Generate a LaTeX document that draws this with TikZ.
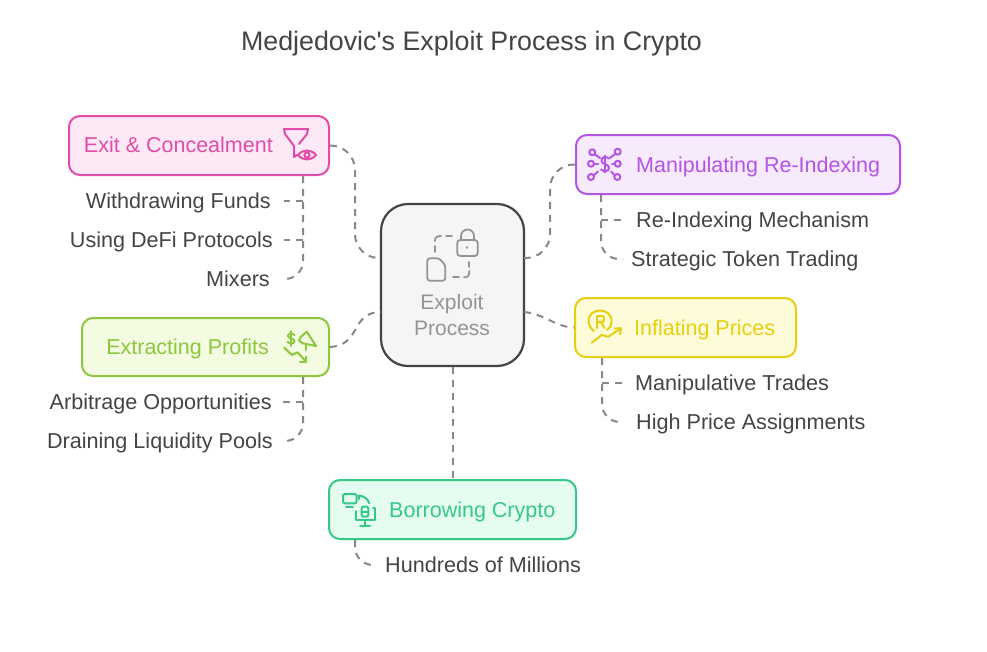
\documentclass[tikz,border=0pt]{standalone}
\usepackage{fontspec}
\setmainfont{Liberation Sans}
\usepackage{xcolor}
\usepackage{tikz}
\usetikzlibrary{arrows.meta,positioning,calc}
\definecolor{ExitPink}{RGB}{224,76,168}
\definecolor{ExitFill}{RGB}{253,232,246}
\definecolor{ManipPurple}{RGB}{180,84,226}
\definecolor{ManipFill}{RGB}{247,234,253}
\definecolor{InflateYellow}{RGB}{230,207,16}
\definecolor{InflateFill}{RGB}{253,251,216}
\definecolor{ExtractGreen}{RGB}{141,198,63}
\definecolor{ExtractFill}{RGB}{243,251,224}
\definecolor{BorrowGreen}{RGB}{53,201,133}
\definecolor{BorrowFill}{RGB}{229,252,241}
\definecolor{TextGrey}{RGB}{68,68,68}
\definecolor{LinkGrey}{RGB}{136,136,136}

\begin{document}
\begin{tikzpicture}[
  x=1pt,y=-1pt,
  stagebox/.style={
    draw,
    rectangle,
    rounded corners=11pt,
    line width=2pt,
    inner sep=0pt
  },
  stagetext/.style={font=\fontsize{21.5}{24}\selectfont,inner sep=0pt},
  leaf/.style={font=\fontsize{21.6}{24}\selectfont,text=TextGrey,inner sep=0pt},
  link/.style={draw=LinkGrey,line width=2pt,dash pattern=on 7pt off 6pt},
  trunk/.style={link,rounded corners=18pt},
  icon/.style={line width=2pt,line cap=round,line join=round},
  font=\fontsize{21}{24}\selectfont
]
\useasboundingbox (0,0) rectangle (987,651);
\fill[white] (0,0) rectangle (987,651);

% Title
\node[font=\fontsize{26.8}{30}\selectfont,text=TextGrey,inner sep=0pt] (title) at (471.5,44) {Medjedovic\textquotesingle s Exploit Process in Crypto};

% Centre
\node[draw=TextGrey,fill=black!4,rounded corners=27pt,line width=2.2pt,minimum width=143pt,minimum height=162pt] (centre) at (452.5,285) {};
\node[text=black!42,align=center,font=\fontsize{21}{26}\selectfont,inner sep=0pt] (centretext) at (452,315) {Exploit\\Process};

% Stages
\node[stagebox,draw=ExitPink,fill=ExitFill,minimum width=260pt,minimum height=59pt] (exit) at (199,145.5) {};
\node[stagebox,draw=ManipPurple,fill=ManipFill,minimum width=324pt,minimum height=59pt] (manip) at (738,164.5) {};
\node[stagebox,draw=InflateYellow,fill=InflateFill,minimum width=221pt,minimum height=59pt] (inflate) at (685.5,327.5) {};
\node[stagebox,draw=ExtractGreen,fill=ExtractFill,minimum width=247pt,minimum height=58pt] (extract) at (205.5,347) {};
\node[stagebox,draw=BorrowGreen,fill=BorrowFill,minimum width=247pt,minimum height=59pt] (borrow) at (452.5,509.5) {};

\node[stagetext,text=ExitPink,anchor=base east] (exittext) at (273,152.5) {Exit \& Concealment};
\node[stagetext,text=ManipPurple,anchor=base west] (maniptext) at (636,172) {Manipulating Re-Indexing};
\node[stagetext,text=InflateYellow,anchor=base west] (inflatetext) at (634,335) {Inflating Prices};
\node[stagetext,text=ExtractGreen,anchor=base east] (extracttext) at (269,354) {Extracting Profits};
\node[stagetext,text=BorrowGreen,anchor=base west] (borrowtext) at (389,517) {Borrowing Crypto};

% Leaves
\node[leaf,anchor=base east] (withdraw) at (271,208) {Withdrawing Funds};
\node[leaf,anchor=base east] (defi) at (273,247) {Using DeFi Protocols};
\node[leaf,anchor=base east] (mixers) at (270,286) {Mixers};
\node[leaf,anchor=base west] (reindex) at (636,227) {Re-Indexing Mechanism};
\node[leaf,anchor=base west] (strategic) at (631,266) {Strategic Token Trading};
\node[leaf,anchor=base west] (trades) at (635,390) {Manipulative Trades};
\node[leaf,anchor=base west] (assign) at (636,429) {High Price Assignments};
\node[leaf,anchor=base east] (arbitrage) at (272,409) {Arbitrage Opportunities};
\node[leaf,anchor=base east] (draining) at (273,448) {Draining Liquidity Pools};
\node[leaf,anchor=base west] (hundreds) at (385,572) {Hundreds of Millions};

% Centre links
\coordinate (centreNW) at (381,258);
\coordinate (centreSW) at (381,312);
\coordinate (centreNE) at (524,258);
\coordinate (centreSE) at (524,312);
\draw[link,rounded corners=24pt] (exit.east) -- (355,146) -- (355,258) -- (centreNW);
\draw[link,rounded corners=24pt] (manip.west) -- (550,164.5) -- (550,258) -- (centreNE);
\draw[link] (centreSE) .. controls (545,314) and (555,327) .. (inflate.west);
\draw[link] (extract.east) .. controls (362,345) and (350,312) .. (centreSW);
\draw[link] (centre.south) -- (borrow.north);

% Leaf links
\coordinate (mixersend) at (283,279);
\coordinate (withdrawend) at (284,201);
\coordinate (defiend) at (284,240);
\coordinate (strategicend) at (623,259);
\coordinate (reindexend) at (622,220);
\coordinate (assignend) at (623,422);
\coordinate (tradesend) at (622,383);
\coordinate (drainingend) at (283,441);
\coordinate (arbitrageend) at (283,402);
\coordinate (hundredsend) at (375,565);
\draw[trunk] (exit.south -| 303,0) -- (303,279) -- (mixersend);
\draw[link] (303,201) -- (withdrawend);
\draw[link] (303,240) -- (defiend);
\draw[trunk] (manip.south -| 601,0) -- (601,259) -- (strategicend);
\draw[link] (601,220) -- (reindexend);
\draw[trunk] (inflate.south -| 602,0) -- (602,422) -- (assignend);
\draw[link] (602,383) -- (tradesend);
\draw[trunk] (extract.south -| 303,0) -- (303,441) -- (drainingend);
\draw[link] (303,402) -- (arbitrageend);
\draw[trunk] (borrow.south -| 355,0) -- (355,565) -- (hundredsend);

% Centre icon
\begin{scope}[icon,draw=black!42,line width=1.8pt]
\draw[rounded corners=3pt] (457.3,240) rectangle (477.7,256);
\draw (461,240) -- (461,236) arc[start angle=180,end angle=360,radius=6.5] -- (474,240);
\fill[black!42] (467,247.5) circle[radius=1.3];
\draw[rounded corners=2.5pt] (427.3,258.3) -- (439,258.3) -- (445.3,265) -- (445.3,280.7) -- (427.3,280.7) -- cycle;
\draw (435,252) -- (435,246);
\draw (435,241) .. controls (435,237) and (437,236) .. (441,236);
\draw (446,236) -- (452,236);
\draw (469.3,262) -- (469.3,267);
\draw (469.3,271) .. controls (469.3,276) and (468,277.3) .. (464,277.3);
\draw (459,277.3) -- (453,277.3);
\end{scope}

% Exit icon
\begin{scope}[icon,draw=ExitPink]
\draw (284,129) -- (308,129) -- (307,134) -- (299,144);
\draw (284,129) -- (285,134) -- (294,146) -- (294,157) -- (297,155);
\draw (298,155) .. controls (303,149) and (311,149) .. (316,155) .. controls (311,161) and (303,161) .. (298,155) -- cycle;
\draw (307,155) circle[radius=2.6];
\end{scope}

% Manipulating icon
\begin{scope}[icon,draw=ManipPurple]
\foreach \cx/\cy in {592.3/152.3,617.7/151.7,591/163.7,617.7/163.7,591/177,617.3/177}
  \draw (\cx,\cy) circle[radius=3];
\draw (595,154.5) -- (600,158);
\draw (615,154) -- (610,158);
\draw (594,163.7) -- (598,163.7);
\draw (614.7,163.7) -- (612,163.7);
\draw (594,175) -- (598,171.5);
\draw (614.5,175) -- (611,171.5);
\draw (609,158.5) .. controls (606,156) and (601.5,157) .. (601.5,160.5) .. controls (601.5,165) and (609,163.5) .. (609,168) .. controls (609,171.5) and (604,172) .. (601,169.5);
\draw (605.2,155.5) -- (605.2,172.5);
\end{scope}

% Inflating icon
\begin{scope}[icon,draw=InflateYellow]
\draw (594,331) .. controls (586,326) and (586,311) .. (600,310.5) .. controls (614,311) and (614,326) .. (607,330);
\draw (597,328) -- (597,316) -- (602,316) .. controls (605,316) and (605,322) .. (602,322) -- (597,322);
\draw (601,322) -- (604.5,328);
\draw (591.7,342.7) -- (601.7,335) -- (608.3,336.7) -- (621,328.3);
\draw (615,328.3) -- (621,328.3) -- (620,334.3);
\end{scope}

% Extracting icon
\begin{scope}[icon,draw=ExtractGreen]
\draw (294.5,335) .. controls (292,333) and (288,333.5) .. (288,336) .. controls (288,339) and (294.5,338) .. (294.5,341) .. controls (294.5,344) and (290,344) .. (287.5,342);
\draw (291,331) -- (291,346);
\draw (306.7,331.7) -- (316,346) -- (302.7,343.3) -- (299,340.7) -- (301,336.7) -- cycle;
\draw (306,344.3) -- (306,350);
\draw (284.3,347.7) -- (291.7,355) -- (297.7,352.3) -- (306,361.7);
\draw (306,356.7) -- (306,361.7) -- (300,361.7);
\end{scope}

% Borrowing icon
\begin{scope}[icon,draw=BorrowGreen]
\draw[rounded corners=2pt] (343,494) rectangle (356.7,503.3);
\draw (346,506.5) -- (353,506.5);
\draw (358.5,499) -- (358.5,495.5) -- (362,495.5);
\draw (358.5,495.5) .. controls (364,496) and (368,499) .. (369.3,503.3);
\draw[rounded corners=2pt] (361.7,506.5) rectangle (368.3,516.7);
\draw (361.7,511.5) -- (368.3,511.5);
\draw (355.7,511) -- (355.7,520) -- (375,520) -- (375,508.3) -- (373,508.3);
\draw (365,520) -- (365,525);
\draw (360,525.5) -- (370,525.5);
\end{scope}
\end{tikzpicture}
\end{document}
